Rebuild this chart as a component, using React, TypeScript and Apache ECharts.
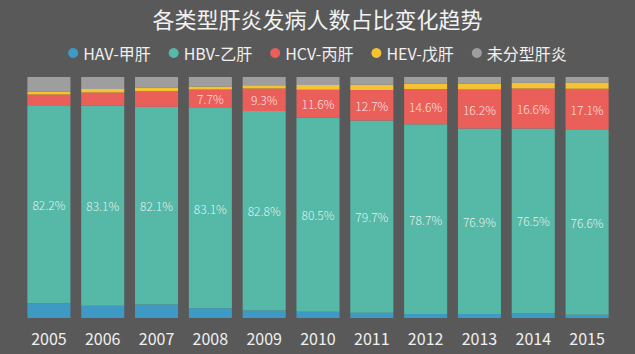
import React, { useEffect, useRef } from "react";
import * as echarts from "echarts";

const years = ["2005", "2006", "2007", "2008", "2009", "2010", "2011", "2012", "2013", "2014", "2015"];
const hav = [6.1, 5.1, 5.6, 4.0, 3.1, 2.6, 2.2, 1.7, 1.7, 2.1, 1.4];
const hbv = [82.2, 83.1, 82.1, 83.1, 82.8, 80.5, 79.7, 78.7, 76.9, 76.5, 76.6];
const hcv = [4.4, 5.4, 6.5, 7.7, 9.3, 11.6, 12.7, 14.6, 16.2, 16.6, 17.1];
const hev = [1.3, 1.4, 1.4, 1.3, 1.4, 2.0, 2.2, 2.2, 2.4, 2.4, 2.6];
const untyped = [6.0, 5.0, 4.4, 3.9, 3.4, 3.3, 3.2, 2.8, 2.8, 2.4, 2.3];
const hcvLabelFrom = 3;

const FONT = "'Noto Sans CJK SC', 'Open Sans', sans-serif";
const labelStyle = {
  show: true,
  position: "inside" as const,
  formatter: "{c}%",
  color: "rgba(255,255,255,0.85)",
  fontSize: 12,
  fontFamily: FONT,
  fontWeight: 300,
};

export default function App() {
  const ref = useRef<HTMLDivElement>(null);
  useEffect(() => {
    if (!ref.current) return;
    const chart = echarts.init(ref.current, undefined, { renderer: "svg" });
    chart.setOption({
      animation: false,
      backgroundColor: "#595959",
      textStyle: { fontFamily: FONT },
      title: {
        text: "各类型肝炎发病人数占比变化趋势",
        left: "center",
        top: 2,
        textStyle: { color: "#f2f2f2", fontSize: 22, fontWeight: "normal", fontFamily: FONT },
      },
      legend: {
        top: 40,
        left: "center",
        icon: "circle",
        itemWidth: 10,
        itemHeight: 10,
        itemGap: 18,
        textStyle: { color: "#f0f0f0", fontSize: 16, fontFamily: FONT },
        data: ["HAV-甲肝", "HBV-乙肝", "HCV-丙肝", "HEV-戊肝", "未分型肝炎"],
      },
      grid: { left: 22, right: 21, top: 77, bottom: 36 },
      xAxis: {
        type: "category",
        data: years,
        axisLine: { show: false },
        axisTick: { show: false },
        axisLabel: { color: "#f0f0f0", fontSize: 16, margin: 12, fontFamily: FONT },
      },
      yAxis: {
        type: "value",
        min: 0,
        max: 100,
        show: false,
        splitLine: { show: false },
      },
      series: [
        {
          name: "HAV-甲肝",
          type: "bar",
          stack: "t",
          barCategoryGap: "20%",
          itemStyle: { color: "#3e9ac4" },
          data: hav,
        },
        {
          name: "HBV-乙肝",
          type: "bar",
          stack: "t",
          itemStyle: { color: "#56b8a7" },
          label: labelStyle,
          data: hbv,
        },
        {
          name: "HCV-丙肝",
          type: "bar",
          stack: "t",
          itemStyle: { color: "#eb5f5b" },
          label: labelStyle,
          data: hcv.map((v, i) => (i < hcvLabelFrom ? { value: v, label: { show: false } } : v)),
        },
        {
          name: "HEV-戊肝",
          type: "bar",
          stack: "t",
          itemStyle: { color: "#f4c232" },
          data: hev,
        },
        {
          name: "未分型肝炎",
          type: "bar",
          stack: "t",
          itemStyle: { color: "#9e9e9e" },
          data: untyped,
        },
      ],
    });
    return () => chart.dispose();
  }, []);
  return (
    <div
      ref={ref}
      style={{ position: "absolute", left: 0, top: 0, width: 635, height: 354 }}
    />
  );
}
